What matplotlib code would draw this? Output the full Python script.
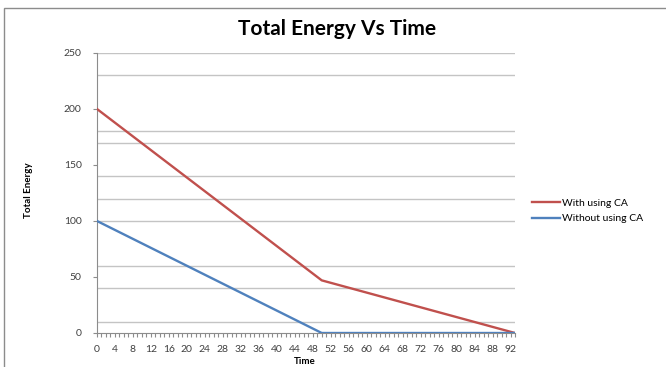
import numpy as np
import matplotlib.pyplot as plt
from matplotlib.patches import Rectangle

# breakpoints of the two series (time, total energy)
time_pts = [0, 50, 93]
with_ca = [200, 47, 0]
without_ca = [100, 0, 0]

xtick_vals = [0, 4, 8, 12, 16, 20, 24, 28, 32, 36, 40, 44, 48, 52, 56, 60, 64, 68, 72, 76, 80, 84, 88, 92]
ytick_vals = [0, 50, 100, 150, 200, 250]
grid_vals = [10, 40, 60, 100, 120, 140, 170, 180, 230, 250]

plt.rcParams['font.family'] = ['Lato', 'DejaVu Sans']

fig = plt.figure(figsize=(6.66, 3.67), dpi=100)
ax = fig.add_axes([97/666, 1-333/367, (515-97)/666, (333-53)/367])

# outer chart border
fig.patches.append(Rectangle((4/666, -0.1), 1.0, 1-8/367+0.1, transform=fig.transFigure,
                             fill=False, edgecolor='#8c8c8c', linewidth=1.0))

for g in grid_vals:
    ax.axhline(g, color='#c4c4c4', linewidth=1.0, zorder=1)

ax.plot(time_pts, with_ca, color='#c0504d', linewidth=1.7, label='With using CA', zorder=3)
ax.plot(time_pts, without_ca, color='#4f81bd', linewidth=1.7, label='Without using CA', zorder=3)

ax.set_xlim(0, 93)
ax.set_ylim(0, 250)
ax.set_xticks(xtick_vals)
ax.set_xticks(range(0, 94), minor=True)
ax.set_yticks(ytick_vals)
ax.tick_params(axis='both', which='both', labelsize=7.5, colors='#8c8c8c',
               labelcolor='#404040', length=3, width=0.8)
ax.tick_params(axis='y', pad=8)
ax.tick_params(axis='x', pad=6)

for s in ['top', 'right']:
    ax.spines[s].set_visible(False)
for s in ['left', 'bottom']:
    ax.spines[s].set_color('#8c8c8c')
    ax.spines[s].set_linewidth(0.8)

fig.text(337/666, 1-29/367, 'Total Energy Vs Time', ha='center', va='center',
         fontsize=15, fontweight='bold')
fig.text(29/666, 1-190/367, 'Total Energy', ha='center', va='center', rotation=90,
         fontsize=7, fontweight='bold')
fig.text(305/666, 1-362/367, 'Time', ha='center', va='center', fontsize=7, fontweight='bold')

ax.legend(loc='center left', bbox_to_anchor=(528/666, 1-211/367), bbox_transform=fig.transFigure,
          frameon=False, fontsize=7.5, handlelength=2.7, handletextpad=0.2, labelspacing=0.55,
          borderaxespad=0)

fig.savefig('out.png', dpi=100)
